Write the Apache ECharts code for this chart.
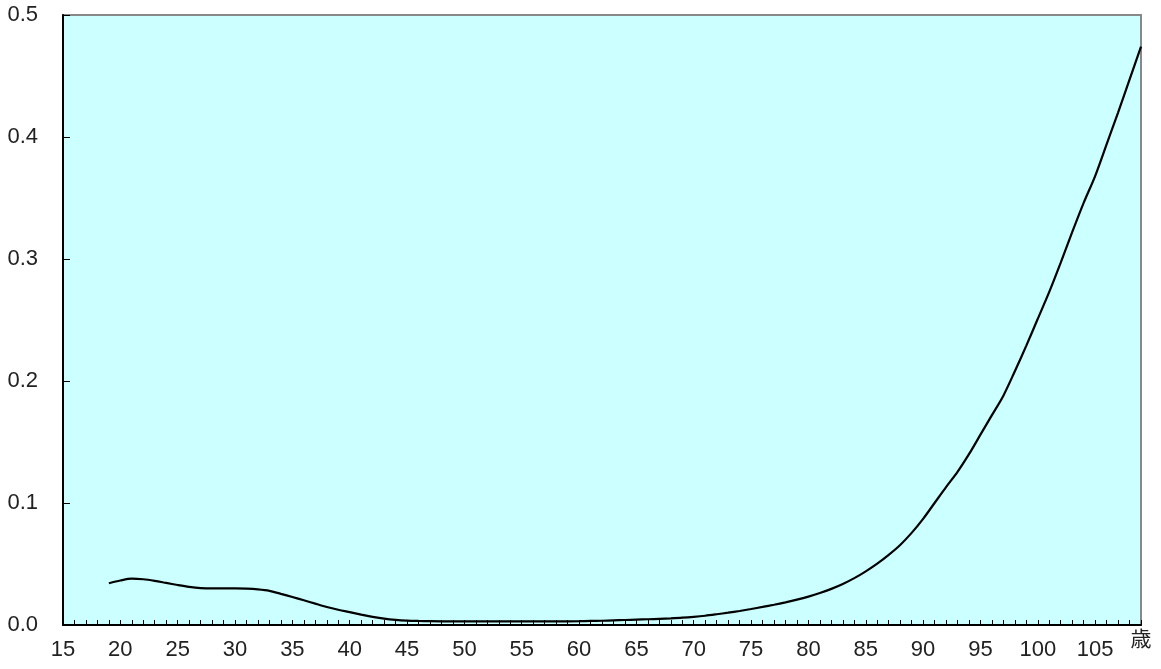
<!DOCTYPE html>
<html>
<head>
<meta charset="utf-8">
<script src="https://cdn.jsdelivr.net/npm/echarts@6/dist/echarts.min.js"></script>
<style>html,body{margin:0;padding:0;background:#fff;}#c{width:1161px;height:669px;}</style>
</head>
<body>
<div id="c"></div>
<script>
const ages = [];
for (let a = 19; a <= 109; a++) ages.push(a);
const values = [
  0.0342, 0.0365, 0.0380, 0.0375, 0.0362, 0.0345, 0.0328, 0.0313, 0.0303, 0.0300, // 19-28
  0.0300, 0.0300, 0.0298, 0.0292, 0.0280, 0.0255, 0.0230, 0.0203, 0.0175, 0.0148, // 29-38
  0.0125, 0.0105, 0.0085, 0.0067, 0.0052, 0.0042, 0.0036, 0.0033, 0.0031, 0.0030, // 39-48
  0.0030, 0.0030, 0.0030, 0.0030, 0.0030, 0.0030, 0.0030, 0.0030, 0.0030, 0.0030, // 49-58
  0.0030, 0.0031, 0.0033, 0.0035, 0.0038, 0.0041, 0.0044, 0.0047, 0.0051, 0.0055, // 59-68
  0.0060, 0.0067, 0.0076, 0.0088, 0.0101, 0.0115, 0.0131, 0.0148, 0.0166, 0.0186, // 69-78
  0.0208, 0.0233, 0.0262, 0.0296, 0.0336, 0.0384, 0.0440, 0.0503, 0.0575, 0.0656, // 79-88
  0.0755, 0.0870, 0.1000, 0.1130, 0.1255, 0.1400, 0.1560, 0.1720, 0.1880, 0.2080, // 89-98
  0.2290, 0.2510, 0.2730, 0.2970, 0.3220, 0.3460, 0.3680, 0.3940, 0.4200, 0.4470, // 99-108
  0.4740 // 109
];
const xMin = 15, xMax = 109;
const yTicks = [0.0, 0.1, 0.2, 0.3, 0.4, 0.5];
const unitLabel = '歳';

const font = '"Liberation Sans Narrow", "Liberation Sans", "Noto Sans CJK JP", sans-serif';
const chart = echarts.init(document.getElementById('c'), null, {renderer: 'canvas'});
chart.setOption({
  animation: false,
  grid: {
    left: 63, right: 20, top: 15, bottom: 44,
    show: true, backgroundColor: '#CCFFFF', borderColor: '#888888', borderWidth: 2
  },
  xAxis: [{
    type: 'value', min: xMin, max: xMax, interval: 1,
    axisLine: {show: true, onZero: false, lineStyle: {color: '#000', width: 2}},
    axisTick: {show: true, inside: true, length: 5, lineStyle: {color: '#000', width: 1}},
    splitLine: {show: false},
    axisLabel: {
      margin: 14,
      color: '#222', fontFamily: font, fontSize: 22,
      showMinLabel: true, showMaxLabel: true, hideOverlap: false,
      formatter: function (v) {
        if (v === xMax) return '';
        return (v - xMin) % 5 === 0 ? String(v) : '';
      }
    }
  }, {
    type: 'value', min: xMin, max: xMax, interval: 1, position: 'bottom',
    axisLine: {show: false}, axisTick: {show: false}, splitLine: {show: false},
    axisLabel: {
      margin: 3, color: '#222', fontFamily: '"Noto Sans CJK JP", sans-serif', fontSize: 21,
      showMinLabel: true, showMaxLabel: true, hideOverlap: false,
      formatter: function (v) { return v === xMax ? unitLabel : ''; }
    }
  }],
  yAxis: {
    type: 'value', min: yTicks[0], max: yTicks[yTicks.length - 1], interval: 0.1,
    axisLine: {show: true, lineStyle: {color: '#000', width: 2}},
    axisTick: {show: true, inside: true, length: 7, lineStyle: {color: '#000', width: 1}},
    splitLine: {show: false},
    axisLabel: {
      margin: 25, color: '#222', fontFamily: font, fontSize: 22,
      formatter: function (v) { return v.toFixed(1); }
    }
  },
  series: [{
    type: 'line',
    xAxisIndex: 0,
    data: ages.map((a, i) => [a, values[i]]),
    showSymbol: false, symbol: 'none', smooth: 0.3,
    lineStyle: {color: '#000', width: 2.2},
    clip: true
  }]
});
</script>
</body>
</html>
